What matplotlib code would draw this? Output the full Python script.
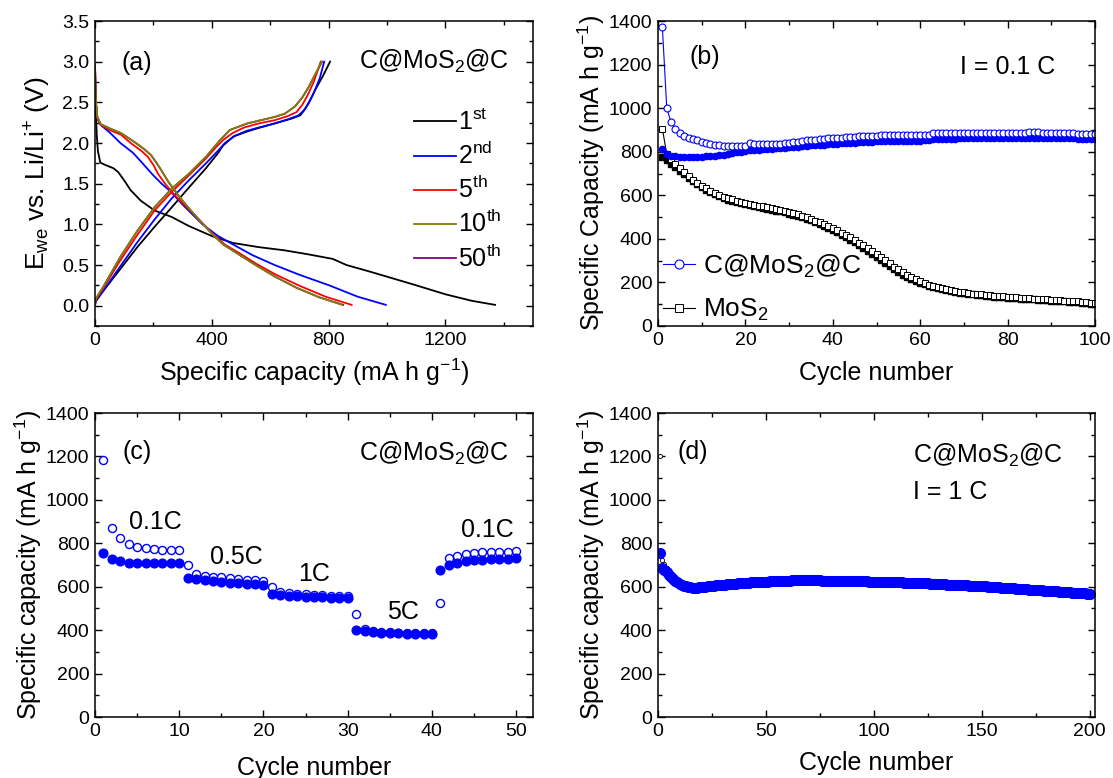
import numpy as np
import matplotlib
matplotlib.use("Agg")
import matplotlib.pyplot as plt
from matplotlib.ticker import MultipleLocator, FormatStrFormatter

plt.rcParams['font.family'] = ['Liberation Sans', 'DejaVu Sans']
plt.rcParams['mathtext.fontset'] = 'custom'
plt.rcParams['mathtext.rm'] = 'Liberation Sans'
plt.rcParams['mathtext.it'] = 'Liberation Sans:italic'
plt.rcParams['mathtext.bf'] = 'Liberation Sans:bold'
plt.rcParams['axes.linewidth'] = 1.1

# ---------------- Panel (a): voltage profiles ----------------
d1_x = [0, 3, 6, 10, 18, 35, 63, 80, 100, 122, 157, 204, 263, 321, 404, 474, 560, 650, 732, 814, 861, 940, 1025, 1100, 1200, 1290, 1370]
d1_y = [2.80, 2.40, 2.10, 1.90, 1.76, 1.73, 1.69, 1.64, 1.54, 1.42, 1.29, 1.17, 1.09, 0.98, 0.85, 0.77, 0.72, 0.68, 0.63, 0.575, 0.50, 0.42, 0.33, 0.25, 0.14, 0.06, 0.01]
c1_x = [0, 2, 28, 80, 145, 204, 263, 321, 380, 420, 439, 474, 520, 556, 615, 673, 703, 720, 740, 755, 780, 805]
c1_y = [0.0, 0.05, 0.18, 0.42, 0.72, 0.97, 1.21, 1.45, 1.69, 1.87, 1.97, 2.08, 2.14, 2.18, 2.24, 2.30, 2.34, 2.42, 2.55, 2.66, 2.82, 3.0]

d2_x = [0, 3, 8, 20, 50, 87, 130, 163, 195, 228, 260, 298, 368, 420, 474, 540, 615, 700, 802, 900, 996]
d2_y = [2.95, 2.50, 2.30, 2.22, 2.13, 2.00, 1.88, 1.75, 1.62, 1.50, 1.40, 1.25, 1.00, 0.86, 0.75, 0.62, 0.50, 0.38, 0.25, 0.11, 0.01]
c2_x = [0, 2, 28, 80, 145, 204, 263, 321, 380, 420, 445, 480, 520, 560, 615, 660, 697, 715, 732, 750, 770, 785]
c2_y = [0.0, 0.06, 0.18, 0.45, 0.78, 1.06, 1.32, 1.54, 1.75, 1.90, 2.00, 2.09, 2.15, 2.19, 2.24, 2.29, 2.34, 2.40, 2.49, 2.62, 2.80, 3.0]

d5_x = [0, 3, 8, 20, 50, 90, 122, 160, 181, 200, 216, 240, 263, 300, 340, 404, 445, 497, 550, 615, 697, 790, 879]
d5_y = [2.95, 2.50, 2.30, 2.22, 2.16, 2.10, 2.00, 1.90, 1.83, 1.73, 1.62, 1.50, 1.40, 1.26, 1.12, 0.88, 0.75, 0.64, 0.52, 0.39, 0.25, 0.11, 0.01]
c5_x = [0, 2, 28, 80, 145, 204, 263, 321, 380, 415, 440, 470, 510, 560, 615, 660, 690, 710, 730, 750, 773]
c5_y = [0.0, 0.07, 0.21, 0.52, 0.87, 1.17, 1.40, 1.60, 1.81, 1.95, 2.04, 2.12, 2.19, 2.24, 2.28, 2.33, 2.38, 2.47, 2.60, 2.76, 3.0]

d10_x = [0, 3, 8, 20, 50, 90, 140, 170, 192, 210, 228, 250, 270, 300, 340, 404, 440, 497, 550, 615, 690, 770, 846]
d10_y = [2.95, 2.52, 2.32, 2.23, 2.18, 2.12, 2.00, 1.92, 1.85, 1.76, 1.66, 1.53, 1.43, 1.29, 1.12, 0.87, 0.75, 0.62, 0.50, 0.36, 0.22, 0.10, 0.01]
c10_x = [0, 2, 28, 87, 145, 204, 263, 321, 380, 427, 462, 521, 615, 650, 685, 710, 732, 755, 777]
c10_y = [0.0, 0.08, 0.23, 0.60, 0.92, 1.21, 1.44, 1.62, 1.83, 2.03, 2.16, 2.24, 2.32, 2.36, 2.45, 2.56, 2.69, 2.85, 3.0]

d50_x = [0, 3, 8, 20, 50, 90, 140, 170, 192, 210, 228, 250, 270, 300, 340, 404, 440, 497, 550, 615, 690, 770, 850]
d50_y = [2.95, 2.52, 2.32, 2.23, 2.18, 2.12, 2.00, 1.92, 1.85, 1.76, 1.66, 1.53, 1.43, 1.29, 1.12, 0.87, 0.75, 0.62, 0.50, 0.36, 0.22, 0.10, 0.01]
c50_x = [0, 2, 28, 87, 145, 204, 263, 321, 380, 427, 462, 521, 615, 650, 685, 710, 732, 755, 778]
c50_y = [0.0, 0.08, 0.23, 0.60, 0.92, 1.21, 1.44, 1.62, 1.83, 2.03, 2.16, 2.24, 2.32, 2.36, 2.45, 2.56, 2.69, 2.85, 3.0]

cycle_labels_a = [r'1$^{\rm st}$', r'2$^{\rm nd}$', r'5$^{\rm th}$', r'10$^{\rm th}$', r'50$^{\rm th}$']
colors_a = ['black', '#0000FF', '#FF0000', '#808000', '#800080']

# ---------------- Panel (b): cycling at 0.1 C ----------------
cms_open_b = [1372, 1000, 935, 905, 885, 873, 865, 858, 852, 846,
              840, 836, 832, 829, 827, 826, 826, 826, 826, 827,
              838, 836, 835, 834, 834, 834, 835, 836, 838, 840,
              843, 846, 849, 852, 854, 856, 858, 859, 861, 862,
              863, 864, 866, 867, 868, 870, 871, 872, 873, 874,
              875, 875, 875, 876, 876, 876, 876, 876, 876, 876,
              877, 877, 885, 884, 884, 884, 884, 885, 885, 886,
              887, 888, 888, 888, 888, 888, 888, 887, 887, 887,
              887, 887, 888, 888, 889, 889, 889, 888, 888, 887,
              887, 886, 886, 885, 884, 883, 882, 882, 881, 880]
cms_fill_b = [812, 790, 782, 779, 778, 777, 777, 777, 778, 778,
              779, 780, 782, 784, 787, 790, 793, 797, 800, 804,
              806, 808, 810, 811, 813, 814, 815, 817, 818, 820,
              821, 823, 825, 827, 829, 830, 832, 833, 835, 836,
              837, 838, 840, 841, 842, 843, 844, 845, 846, 847,
              848, 848, 849, 849, 850, 850, 850, 851, 851, 851,
              852, 852, 858, 858, 859, 859, 860, 860, 861, 861,
              862, 862, 863, 863, 863, 864, 864, 864, 864, 865,
              865, 865, 865, 865, 865, 865, 865, 864, 864, 864,
              863, 863, 862, 862, 861, 860, 860, 859, 858, 857]
mos2_open_b = [905, 790, 765, 745, 725, 705, 688, 672, 657, 644,
               632, 621, 611, 602, 594, 587, 581, 575, 570, 565,
               561, 557, 553, 549, 545, 541, 537, 533, 528, 523,
               518, 512, 506, 499, 492, 484, 476, 467, 458, 449,
               439, 429, 418, 407, 395, 383, 370, 357, 343, 329,
               315, 301, 287, 273, 260, 247, 235, 224, 214, 205,
               197, 190, 184, 178, 173, 168, 164, 160, 157, 154,
               151, 149, 147, 145, 143, 141, 139, 137, 136, 134,
               133, 131, 130, 129, 127, 126, 125, 123, 122, 121,
               120, 118, 117, 116, 114, 113, 111, 109, 107, 105]
mos2_fill_b = [778, 762, 745, 728, 712, 696, 680, 665, 650, 637,
               625, 614, 604, 595, 587, 580, 574, 568, 563, 558,
               554, 550, 546, 542, 538, 534, 530, 526, 521, 516,
               511, 505, 499, 492, 485, 477, 468, 459, 450, 440,
               430, 419, 408, 396, 384, 371, 358, 344, 330, 316,
               302, 288, 274, 261, 248, 236, 225, 215, 206, 198,
               191, 184, 178, 173, 168, 164, 160, 156, 153, 150,
               147, 145, 143, 141, 139, 137, 135, 133, 132, 130,
               129, 127, 126, 125, 123, 122, 121, 119, 118, 117,
               115, 114, 113, 111, 110, 108, 106, 104, 102, 100]

# ---------------- Panel (c): rate capability ----------------
rate_open_c = [1182, 869, 823, 795, 785, 780, 775, 771, 769, 768,
               702, 658, 651, 646, 643, 638, 635, 632, 629, 628,
               598, 574, 569, 566, 565, 562, 560, 559, 558, 557,
               475, 403, 397, 393, 391, 389, 387, 386, 385, 385,
               525, 731, 740, 752, 755, 758, 760, 762, 762, 763]
rate_fill_c = [754, 726, 717, 711, 708, 708, 708, 708, 708, 708,
               642, 634, 629, 625, 622, 618, 617, 614, 612, 609,
               566, 562, 558, 557, 554, 552, 551, 548, 548, 548,
               400, 395, 391, 388, 386, 385, 382, 382, 380, 380,
               677, 698, 709, 718, 722, 725, 726, 728, 729, 732]

# ---------------- Panel (d): cycling at 1 C ----------------
long_open_d = [1200, 725, 705, 685, 668, 653, 641, 631, 623, 617, 611, 607]
long_fill_d = [757, 688, 678, 666, 654, 644, 635, 627, 620, 614,
               609, 605, 601, 599, 597, 596, 596, 596, 597, 598,
               599, 600, 602, 603, 604, 605, 606, 607, 608, 609,
               610, 611, 612, 613, 614, 614, 615, 616, 617, 618,
               618, 619, 620, 620, 621, 622, 622, 623, 623, 624,
               624, 625, 625, 626, 626, 627, 627, 627, 628, 628,
               628, 629, 629, 629, 630, 630, 630, 631, 631, 631,
               632, 632, 632, 633, 633, 628, 628, 628, 628, 628,
               628, 628, 627, 627, 627, 627, 627, 627, 626, 626,
               626, 626, 626, 625, 625, 625, 625, 624, 624, 624,
               624, 623, 623, 623, 622, 622, 622, 621, 621, 621,
               620, 620, 620, 619, 619, 619, 618, 618, 617, 617,
               617, 616, 616, 615, 615, 614, 614, 613, 613, 612,
               612, 611, 611, 610, 610, 609, 609, 608, 608, 607,
               607, 606, 606, 605, 605, 604, 604, 603, 603, 602,
               601, 601, 600, 599, 599, 598, 597, 597, 596, 595,
               595, 594, 593, 593, 592, 591, 591, 590, 589, 589,
               588, 587, 587, 586, 585, 585, 584, 583, 582, 582,
               581, 580, 580, 579, 578, 577, 577, 576, 575, 575,
               574, 573, 572, 572, 571, 570, 570, 569, 568, 568]

TICK_FS = 14
LABEL_FS = 18
TXT_FS = 18

fig = plt.figure(figsize=(11.13, 7.78), dpi=100)
W, H = 1113.0, 778.0


def make_ax(l, r, t, b):
    return fig.add_axes([l / W, 1 - b / H, (r - l) / W, (b - t) / H])


def style(ax):
    ax.tick_params(which='both', direction='in', top=True, right=True,
                   labelsize=TICK_FS, width=1.0)
    ax.tick_params(which='major', length=5, pad=4)
    ax.tick_params(which='minor', length=3)


axa = make_ax(95, 533, 21, 326)
axb = make_ax(658, 1095, 21, 326)
axc = make_ax(95, 533, 413, 717)
axd = make_ax(658, 1095, 413, 717)

# ---- (a)
curves = [(d1_x, d1_y, c1_x, c1_y), (d2_x, d2_y, c2_x, c2_y),
          (d5_x, d5_y, c5_x, c5_y), (d50_x, d50_y, c50_x, c50_y),
          (d10_x, d10_y, c10_x, c10_y)]
order_colors = [colors_a[0], colors_a[1], colors_a[2], colors_a[4], colors_a[3]]
order_labels = [cycle_labels_a[0], cycle_labels_a[1], cycle_labels_a[2], cycle_labels_a[4], cycle_labels_a[3]]
handles = {}
for (dx, dy, cx, cy), col, lab in zip(curves, order_colors, order_labels):
    h, = axa.plot(dx, dy, color=col, lw=1.3, label=lab)
    axa.plot(cx, cy, color=col, lw=1.3)
    handles[lab] = h
axa.set_xlim(0, 1500)
axa.set_ylim(-0.25, 3.5)
axa.xaxis.set_major_locator(MultipleLocator(400))
axa.xaxis.set_minor_locator(MultipleLocator(200))
axa.yaxis.set_major_locator(MultipleLocator(0.5))
axa.yaxis.set_minor_locator(MultipleLocator(0.25))
axa.yaxis.set_major_formatter(FormatStrFormatter('%.1f'))
style(axa)
axa.set_xlabel(r'Specific capacity (mA h g$^{-1}$)', fontsize=LABEL_FS, labelpad=6)
axa.set_ylabel(r'E$_{\rm we}$ vs. Li/Li$^{+}$ (V)', fontsize=LABEL_FS + 1, labelpad=7)
axa.text(0.095, 0.862, '(a)', transform=axa.transAxes, fontsize=TXT_FS, ha='center', va='center')
axa.text(0.945, 0.866, r'C@MoS$_2$@C', transform=axa.transAxes, fontsize=TXT_FS, ha='right', va='center')
leg = axa.legend([handles[l] for l in cycle_labels_a], cycle_labels_a, loc='upper left',
                 bbox_to_anchor=(0.728, 0.71), frameon=False, fontsize=TXT_FS,
                 handlelength=1.7, handletextpad=0.05, labelspacing=0.28,
                 borderpad=0, borderaxespad=0)

# ---- (b)
cyc_b = np.arange(1, len(cms_open_b) + 1)
axb.plot(cyc_b, mos2_fill_b, color='black', marker='s', ms=4.0, lw=0.8, mfc='black', mec='black')
lm, = axb.plot(cyc_b, mos2_open_b, color='black', marker='s', ms=4.0, lw=0.8, mfc='white', mec='black', mew=0.7)
axb.plot(cyc_b, cms_fill_b, color='#0000FF', marker='o', ms=4.5, lw=0.8, mfc='#0000FF', mec='#0000FF')
lc, = axb.plot(cyc_b, cms_open_b, color='#0000FF', marker='o', ms=5.0, lw=0.8, mfc='white', mec='#0000FF', mew=0.8)
axb.set_xlim(0, 100)
axb.set_ylim(0, 1400)
axb.xaxis.set_major_locator(MultipleLocator(20))
axb.xaxis.set_minor_locator(MultipleLocator(10))
axb.yaxis.set_major_locator(MultipleLocator(200))
axb.yaxis.set_minor_locator(MultipleLocator(100))
style(axb)
axb.set_xlabel('Cycle number', fontsize=LABEL_FS, labelpad=9)
axb.set_ylabel(r'Specific Capacity (mA h g$^{-1}$)', fontsize=LABEL_FS, labelpad=1)
axb.text(0.106, 0.883, '(b)', transform=axb.transAxes, fontsize=TXT_FS, ha='center', va='center')
axb.text(0.80, 0.85, 'I = 0.1 C', transform=axb.transAxes, fontsize=TXT_FS, ha='center', va='center')
axb.legend([lc, lm], [r'C@MoS$_2$@C', r'MoS$_2$'], loc='lower left', bbox_to_anchor=(0.012, 0.01),
           frameon=False, fontsize=TXT_FS + 1, handlelength=1.2, handletextpad=0.3,
           labelspacing=0.65, borderpad=0, borderaxespad=0, markerscale=1.3)

# ---- (c)
cyc_c = np.arange(1, len(rate_open_c) + 1)
axc.plot(cyc_c, rate_open_c, ls='none', marker='o', ms=5.8, mfc='none', mec='#0000FF', mew=1.0)
axc.plot(cyc_c, rate_fill_c, ls='none', marker='o', ms=6.3, mfc='#0000FF', mec='#0000FF')
axc.set_xlim(0, 52)
axc.set_ylim(0, 1400)
axc.xaxis.set_major_locator(MultipleLocator(10))
axc.xaxis.set_minor_locator(MultipleLocator(5))
axc.yaxis.set_major_locator(MultipleLocator(200))
axc.yaxis.set_minor_locator(MultipleLocator(100))
style(axc)
axc.set_xlabel('Cycle number', fontsize=LABEL_FS, labelpad=12)
axc.set_ylabel(r'Specific capacity (mA h g$^{-1}$)', fontsize=LABEL_FS, labelpad=1)
axc.text(0.096, 0.872, '(c)', transform=axc.transAxes, fontsize=TXT_FS, ha='center', va='center')
axc.text(0.945, 0.867, r'C@MoS$_2$@C', transform=axc.transAxes, fontsize=TXT_FS, ha='right', va='center')
rate_texts = [('0.1C', 0.137, 0.641), ('0.5C', 0.323, 0.526), ('1C', 0.501, 0.469),
              ('5C', 0.703, 0.345), ('0.1C', 0.895, 0.616)]
for s, x, y in rate_texts:
    axc.text(x, y, s, transform=axc.transAxes, fontsize=TXT_FS, ha='center', va='center')

# ---- (d)
cyc_d_open = np.arange(1, len(long_open_d) + 1)
cyc_d = np.arange(1, len(long_fill_d) + 1)
axd.plot(cyc_d_open, long_open_d, ls='none', marker='o', ms=3.0, mfc='white', mec='black', mew=0.6)
axd.plot(cyc_d, long_fill_d, ls='none', marker='o', ms=7.0, mfc='#0000FF', mec='#0000FF')
axd.set_xlim(0, 202.5)
axd.set_ylim(0, 1400)
axd.xaxis.set_major_locator(MultipleLocator(50))
axd.xaxis.set_minor_locator(MultipleLocator(25))
axd.yaxis.set_major_locator(MultipleLocator(200))
axd.yaxis.set_minor_locator(MultipleLocator(100))
style(axd)
axd.set_xlabel('Cycle number', fontsize=LABEL_FS, labelpad=8)
axd.set_ylabel(r'Specific capacity (mA h g$^{-1}$)', fontsize=LABEL_FS, labelpad=1)
axd.text(0.080, 0.872, '(d)', transform=axd.transAxes, fontsize=TXT_FS, ha='center', va='center')
axd.text(0.583, 0.861, r'C@MoS$_2$@C', transform=axd.transAxes, fontsize=TXT_FS, ha='left', va='center')
axd.text(0.583, 0.740, 'I = 1 C', transform=axd.transAxes, fontsize=TXT_FS, ha='left', va='center')

fig.savefig('out.png', dpi=100)
